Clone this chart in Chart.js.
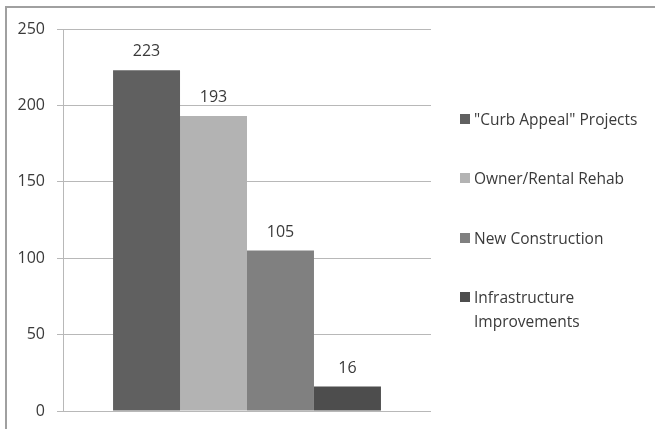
<!DOCTYPE html>
<html>
<head>
<meta charset="utf-8">
<script src="https://cdn.jsdelivr.net/npm/chart.js@4/dist/chart.umd.min.js"></script>
<style>
  html, body { margin: 0; padding: 0; background: #fff; }
  body { width: 655px; height: 429px; position: relative; overflow: hidden; font-family: "Open Sans", sans-serif; }
  #frame { position: absolute; left: 5px; top: 6px; width: 700px; height: 500px; border: 2px solid #a0a0a0; box-sizing: border-box; }
  #wrap { position: absolute; left: 0; top: 0; width: 655px; height: 429px; }
  #legend { position: absolute; left: 460px; top: 0; font-size: 15.5px; color: #3a3a3a; }
  .item { position: absolute; left: 0; white-space: nowrap; line-height: 24px; }
  .sw { position: absolute; left: 0; width: 10px; height: 10px; top: 7px; }
  .txt { position: absolute; left: 14px; top: 0; }
</style>
</head>
<body>
<div id="frame"></div>
<div id="wrap"><canvas id="c" width="655" height="429"></canvas></div>
<div id="legend"></div>
<script>
// Project counts by program type
const categories = [""];
const seriesNames = ["\"Curb Appeal\" Projects", "Owner/Rental Rehab", "New Construction", "Infrastructure Improvements"];
const legendLines = [["\"Curb Appeal\" Projects"], ["Owner/Rental Rehab"], ["New Construction"], ["Infrastructure", "Improvements"]];
const seriesValues = [223, 193, 105, 16];
const seriesColors = ["#606060", "#b3b3b3", "#808080", "#4d4d4d"];
const yTicks = [0, 50, 100, 150, 200, 250];

const datasets = seriesNames.map((name, i) => ({
  label: name,
  data: [seriesValues[i]],
  backgroundColor: seriesColors[i],
  borderWidth: 0,
  categoryPercentage: 0.728,
  barPercentage: 1.0
}));

// Writes each bar's value above it
const valueLabels = {
  id: 'valueLabels',
  afterDatasetsDraw(chart) {
    const ctx = chart.ctx;
    ctx.save();
    ctx.font = '16px "Open Sans", sans-serif';
    ctx.fillStyle = '#3a3a3a';
    ctx.textAlign = 'center';
    ctx.textBaseline = 'alphabetic';
    chart.data.datasets.forEach((ds, i) => {
      const meta = chart.getDatasetMeta(i);
      meta.data.forEach((bar, j) => {
        ctx.fillText(String(ds.data[j]), bar.x, bar.y - 14);
      });
    });
    ctx.restore();
  }
};

new Chart(document.getElementById('c'), {
  type: 'bar',
  data: { labels: categories, datasets },
  options: {
    responsive: false,
    animation: false,
    layout: { padding: { left: 0, right: 224, top: 29, bottom: 18 } },
    plugins: { legend: { display: false }, tooltip: { enabled: false } },
    scales: {
      x: { display: false },
      y: {
        min: 0, max: 250,
        afterBuildTicks(scale) { scale.ticks = yTicks.map(v => ({ value: v })); },
        afterFit(scale) {
          scale.width = 63;
          scale.paddingTop = 0;
          scale.paddingBottom = 0;
        },
        border: { display: true, color: '#b8b8b8', width: 1 },
        grid: { color: '#b8b8b8', lineWidth: 1, tickLength: 6, drawTicks: true },
        ticks: {
          padding: 12,
          color: '#3a3a3a',
          font: { family: '"Open Sans", sans-serif', size: 16 }
        }
      }
    }
  },
  plugins: [valueLabels]
});

// Legend to the right of the plot
const legendTops = [107, 166, 226, 285];
const legend = document.getElementById('legend');
seriesNames.forEach((name, i) => {
  const item = document.createElement('div');
  item.className = 'item';
  item.style.top = legendTops[i] + 'px';
  const sw = document.createElement('div');
  sw.className = 'sw';
  sw.style.background = seriesColors[i];
  const txt = document.createElement('div');
  txt.className = 'txt';
  txt.innerHTML = legendLines[i].map(s => s.replace(/&/g, '&amp;').replace(/</g, '&lt;')).join('<br>');
  item.appendChild(sw);
  item.appendChild(txt);
  legend.appendChild(item);
});
</script>
</body>
</html>
